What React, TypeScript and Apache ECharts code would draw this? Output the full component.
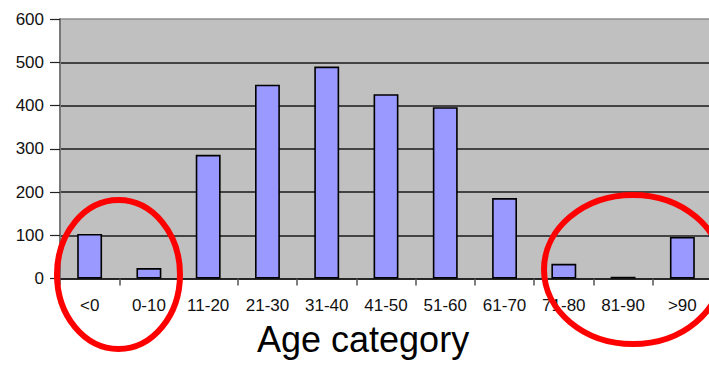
import React, { useEffect, useRef } from "react";
import * as echarts from "echarts";

const categories = ["<0", "0-10", "11-20", "21-30", "31-40", "41-50", "51-60", "61-70", "71-80", "81-90", ">90"];
const counts = [103, 24, 286, 448, 490, 426, 396, 186, 34, 4, 96];
const yTicks = [0, 100, 200, 300, 400, 500, 600];
const xTitle = "Age category";

const FONT = "Liberation Sans";

export default function App() {
  const ref = useRef<HTMLDivElement>(null);
  useEffect(() => {
    if (!ref.current) return;
    const chart = echarts.init(ref.current, null, { renderer: "svg" });
    chart.setOption({
      animation: false,
      grid: {
        left: 60,
        top: 19,
        right: -3,
        bottom: 89.5,
        show: true,
        backgroundColor: "#C0C0C0",
        borderWidth: 0,
        containLabel: false,
        outerBoundsMode: "none",
      },
      xAxis: {
        type: "category",
        data: categories,
        axisLine: { lineStyle: { color: "#1a1a1a", width: 1.5 } },
        axisTick: { show: true, length: 7, lineStyle: { color: "#555", width: 1.5 } },
        axisLabel: {
          color: "#111",
          margin: 18,
          interval: 0,
          fontFamily: FONT,
          fontSize: 17,
        },
      },
      yAxis: {
        type: "value",
        min: yTicks[0],
        max: yTicks[yTicks.length - 1],
        interval: 100,
        axisLine: { show: true, lineStyle: { color: "#777", width: 2 } },
        axisTick: { show: true, length: 10, lineStyle: { color: "#222", width: 1.2 } },
        axisLabel: {
          color: "#111",
          margin: 16,
          fontFamily: FONT,
          fontSize: 17,
        },
        splitLine: {
          show: true,
          lineStyle: {
            color: ["#1a1a1a", "#1a1a1a", "#1a1a1a", "#1a1a1a", "#1a1a1a", "#1a1a1a", "#8e8e8e"],
            width: 1.5,
          },
        },
      },
      series: [
        {
          type: "bar",
          data: counts,
          barWidth: "42%",
          itemStyle: { color: "#9999FF", borderColor: "#000", borderWidth: 1.6 },
        },
      ],
      graphic: [
        {
          type: "text",
          left: 257,
          top: 321,
          z: 10,
          style: {
            text: xTitle,
            fontFamily: FONT,
            fontSize: 36,
            fill: "#000",
          },
        },
        {
          type: "ellipse",
          z: 20,
          shape: { cx: 118.5, cy: 274.5, rx: 61.5, ry: 74.5 },
          style: { fill: "none", stroke: "#FF0000", lineWidth: 6 },
        },
        {
          type: "ellipse",
          z: 20,
          shape: { cx: 633, cy: 269.5, rx: 89, ry: 74.5 },
          style: { fill: "none", stroke: "#FF0000", lineWidth: 6 },
        },
      ],
    });
    return () => chart.dispose();
  }, []);
  return <div ref={ref} style={{ width: 709, height: 368, position: "absolute", left: 0, top: 0 }} />;
}
